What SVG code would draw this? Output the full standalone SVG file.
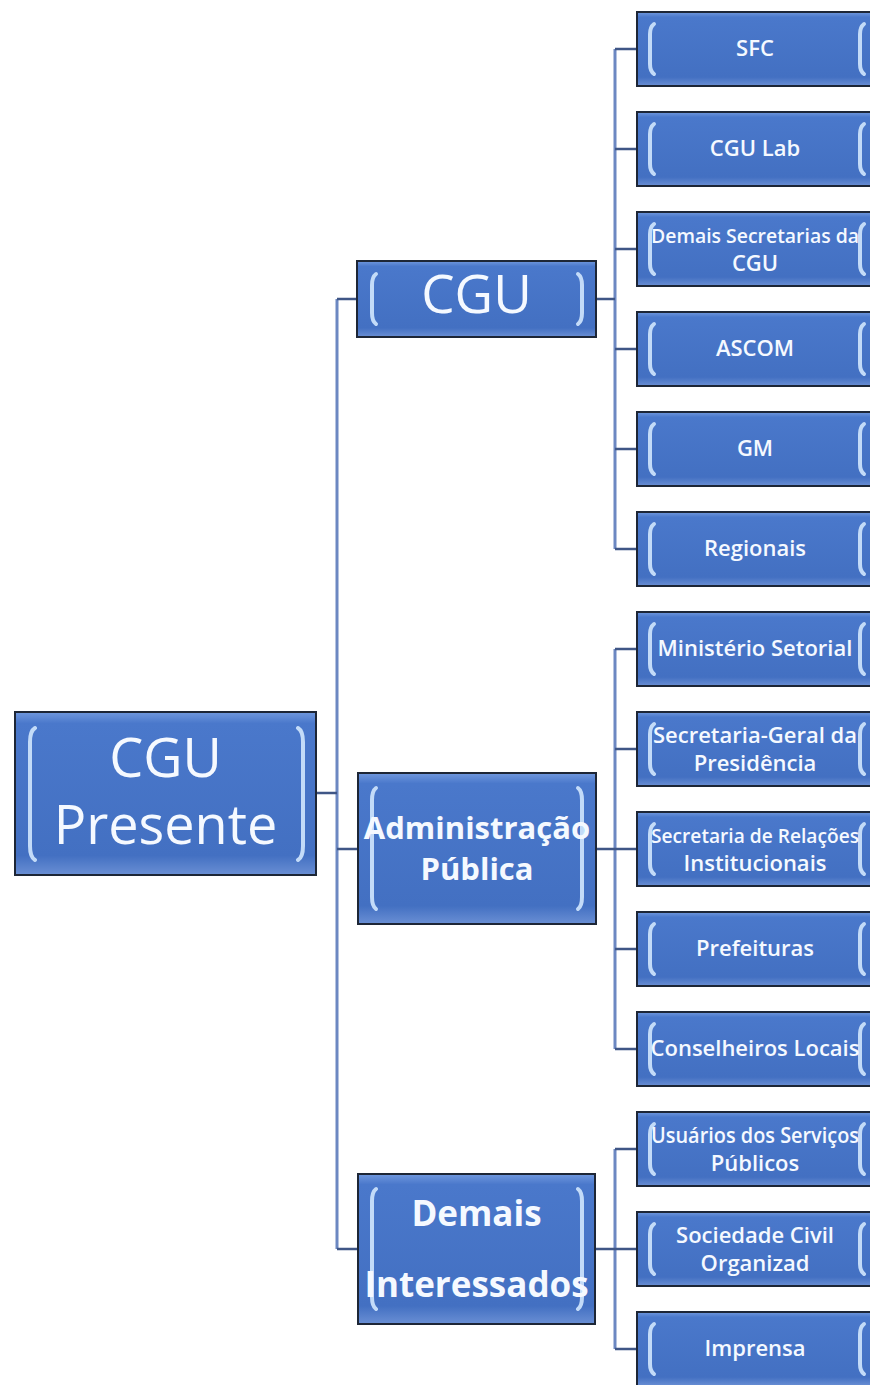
<svg xmlns="http://www.w3.org/2000/svg" width="870" height="1385" viewBox="0 0 870 1385">
<style>
.box{fill:url(#g);stroke:#1d2636;stroke-width:2}
.br{fill:none;stroke:#c3dbf8;stroke-width:4;stroke-linecap:round}
.t{font-family:"Open Sans","Liberation Sans",sans-serif;fill:#f5f9ff;text-anchor:middle}
.leaf{font-size:22px;font-weight:600}
.sm{font-size:21px}
.xs{font-size:20px}
.big{font-size:54px}
.mid{font-size:53px}
.bold{font-weight:bold;font-size:31px}
.bold2{font-weight:bold;font-size:35px}
.cv{fill:none;stroke:#6c88c2;stroke-width:3}
.ch{fill:none;stroke:#3f5686;stroke-width:2.5}
</style>
<defs>
<linearGradient id="g" x1="0" y1="0" x2="0" y2="1">
<stop offset="0" stop-color="#7098de"/>
<stop offset="0.07" stop-color="#4a78cb"/>
<stop offset="0.88" stop-color="#4370c2"/>
<stop offset="1" stop-color="#6a8fd4"/>
</linearGradient>
</defs>
<rect width="870" height="1385" fill="#ffffff"/>

<g id="connectors">
<path class="cv" d="M337 299 V1249"/>
<path class="ch" d="M316 793 H337 M337 299 H357 M337 849 H358 M337 1249 H358"/>
<path class="cv" d="M615 49 V549 M615 649 V1049 M615 1149 V1349"/>
<path class="ch" d="M596 299 H615 M596 849 H615 M595 1249 H615"/>
<path class="ch" d="M615 49 H637 M615 149 H637 M615 249 H637 M615 349 H637 M615 449 H637 M615 549 H637 M615 649 H637 M615 749 H637 M615 849 H637 M615 949 H637 M615 1049 H637 M615 1149 H637 M615 1249 H637 M615 1349 H637"/>
</g>

<g id="root">
<rect class="box" x="15" y="712" width="301" height="163"/>
<path class="br" d="M35 728 Q30 731 30 742 V846 Q30 857 35 860"/>
<path class="br" d="M298 728 Q303 731 303 742 V846 Q303 857 298 860"/>
<text class="t big" x="165.5" y="777">CGU</text>
<text class="t big" x="165.5" y="844">Presente</text>
</g>

<g id="n-cgu">
<rect class="box" x="357" y="261" width="239" height="76"/>
<path class="br" d="M376 274 Q372 277 372 285 V313 Q372 321 376 324"/>
<path class="br" d="M578 274 Q582 277 582 285 V313 Q582 321 578 324"/>
<text class="t mid" x="476.5" y="313">CGU</text>
</g>

<g id="n-admin">
<rect class="box" x="358" y="773" width="238" height="151"/>
<path class="br" d="M376 788 Q372 791 372 800 V897 Q372 906 376 909"/>
<path class="br" d="M578 788 Q582 791 582 800 V897 Q582 906 578 909"/>
<text class="t bold" x="477" y="839">Administração</text>
<text class="t bold" x="477" y="880">Pública</text>
</g>

<g id="n-demais">
<rect class="box" x="358" y="1174" width="237" height="150"/>
<path class="br" d="M376 1189 Q372 1192 372 1201 V1297 Q372 1306 376 1309"/>
<path class="br" d="M578 1189 Q582 1192 582 1201 V1297 Q582 1306 578 1309"/>
<text class="t bold2" x="476.5" y="1226">Demais</text>
<text class="t bold2" x="476.5" y="1297">Interessados</text>
</g>

<g id="leaves">
<g id="l-sfc"><rect class="box" x="637" y="12" width="236" height="74"/><path class="br" d="M654 24 Q650 27 650 34 V64 Q650 71 654 74"/><path class="br" d="M864 24 Q860 27 860 34 V64 Q860 71 864 74"/><text class="t leaf" x="755" y="56">SFC</text></g>
<g id="l-lab"><rect class="box" x="637" y="112" width="236" height="74"/><path class="br" d="M654 124 Q650 127 650 134 V164 Q650 171 654 174"/><path class="br" d="M864 124 Q860 127 860 134 V164 Q860 171 864 174"/><text class="t leaf" x="755" y="156">CGU Lab</text></g>
<g id="l-dsec"><rect class="box" x="637" y="212" width="236" height="74"/><path class="br" d="M654 224 Q650 227 650 234 V264 Q650 271 654 274"/><path class="br" d="M864 224 Q860 227 860 234 V264 Q860 271 864 274"/><text class="t leaf xs" x="755" y="243" textLength="208" lengthAdjust="spacingAndGlyphs">Demais Secretarias da</text><text class="t leaf" x="755" y="271">CGU</text></g>
<g id="l-ascom"><rect class="box" x="637" y="312" width="236" height="74"/><path class="br" d="M654 324 Q650 327 650 334 V364 Q650 371 654 374"/><path class="br" d="M864 324 Q860 327 860 334 V364 Q860 371 864 374"/><text class="t leaf" x="755" y="356">ASCOM</text></g>
<g id="l-gm"><rect class="box" x="637" y="412" width="236" height="74"/><path class="br" d="M654 424 Q650 427 650 434 V464 Q650 471 654 474"/><path class="br" d="M864 424 Q860 427 860 434 V464 Q860 471 864 474"/><text class="t leaf" x="755" y="456">GM</text></g>
<g id="l-reg"><rect class="box" x="637" y="512" width="236" height="74"/><path class="br" d="M654 524 Q650 527 650 534 V564 Q650 571 654 574"/><path class="br" d="M864 524 Q860 527 860 534 V564 Q860 571 864 574"/><text class="t leaf" x="755" y="556">Regionais</text></g>
<g id="l-min"><rect class="box" x="637" y="612" width="236" height="74"/><path class="br" d="M654 624 Q650 627 650 634 V664 Q650 671 654 674"/><path class="br" d="M864 624 Q860 627 860 634 V664 Q860 671 864 674"/><text class="t leaf" x="755" y="656">Ministério Setorial</text></g>
<g id="l-sgp"><rect class="box" x="637" y="712" width="236" height="74"/><path class="br" d="M654 724 Q650 727 650 734 V764 Q650 771 654 774"/><path class="br" d="M864 724 Q860 727 860 734 V764 Q860 771 864 774"/><text class="t leaf" x="755" y="743">Secretaria-Geral da</text><text class="t leaf" x="755" y="771">Presidência</text></g>
<g id="l-sri"><rect class="box" x="637" y="812" width="236" height="74"/><path class="br" d="M654 824 Q650 827 650 834 V864 Q650 871 654 874"/><path class="br" d="M864 824 Q860 827 860 834 V864 Q860 871 864 874"/><text class="t leaf xs" x="755" y="843" textLength="208" lengthAdjust="spacingAndGlyphs">Secretaria de Relações</text><text class="t leaf" x="755" y="871">Institucionais</text></g>
<g id="l-pref"><rect class="box" x="637" y="912" width="236" height="74"/><path class="br" d="M654 924 Q650 927 650 934 V964 Q650 971 654 974"/><path class="br" d="M864 924 Q860 927 860 934 V964 Q860 971 864 974"/><text class="t leaf" x="755" y="956">Prefeituras</text></g>
<g id="l-cons"><rect class="box" x="637" y="1012" width="236" height="74"/><path class="br" d="M654 1024 Q650 1027 650 1034 V1064 Q650 1071 654 1074"/><path class="br" d="M864 1024 Q860 1027 860 1034 V1064 Q860 1071 864 1074"/><text class="t leaf" x="755" y="1056">Conselheiros Locais</text></g>
<g id="l-usu"><rect class="box" x="637" y="1112" width="236" height="74"/><path class="br" d="M654 1124 Q650 1127 650 1134 V1164 Q650 1171 654 1174"/><path class="br" d="M864 1124 Q860 1127 860 1134 V1164 Q860 1171 864 1174"/><text class="t leaf sm" x="755" y="1143" textLength="208" lengthAdjust="spacingAndGlyphs">Usuários dos Serviços</text><text class="t leaf" x="755" y="1171">Públicos</text></g>
<g id="l-soc"><rect class="box" x="637" y="1212" width="236" height="74"/><path class="br" d="M654 1224 Q650 1227 650 1234 V1264 Q650 1271 654 1274"/><path class="br" d="M864 1224 Q860 1227 860 1234 V1264 Q860 1271 864 1274"/><text class="t leaf" x="755" y="1243">Sociedade Civil</text><text class="t leaf" x="755" y="1271">Organizad</text></g>
<g id="l-imp"><rect class="box" x="637" y="1312" width="236" height="74"/><path class="br" d="M654 1324 Q650 1327 650 1334 V1364 Q650 1371 654 1374"/><path class="br" d="M864 1324 Q860 1327 860 1334 V1364 Q860 1371 864 1374"/><text class="t leaf" x="755" y="1356">Imprensa</text></g>
</g>
</svg>
